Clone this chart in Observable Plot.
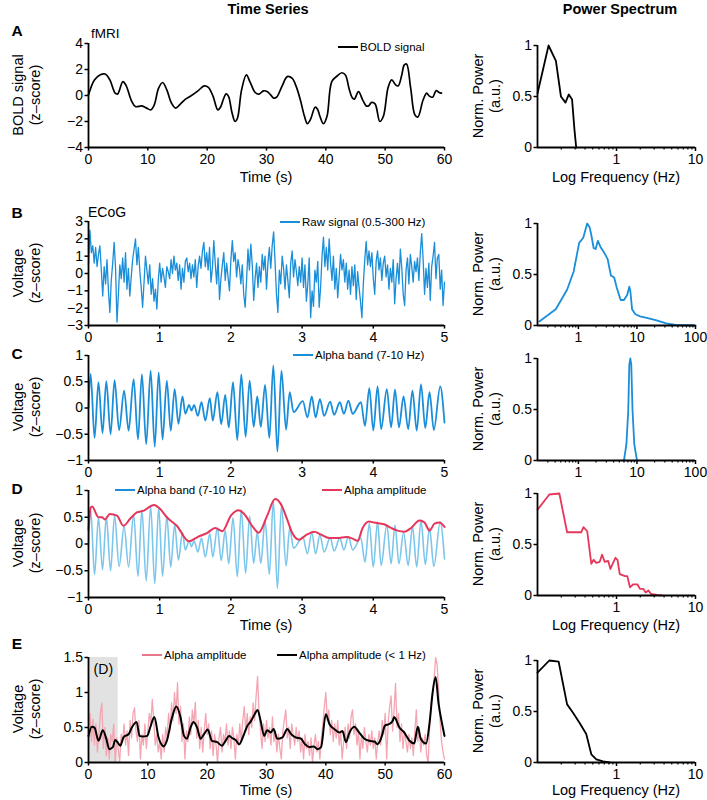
<!DOCTYPE html>
<html><head><meta charset="utf-8">
<script src="https://cdn.jsdelivr.net/npm/d3@7"></script>
<script src="https://cdn.jsdelivr.net/npm/@observablehq/plot@0.6"></script>
<style>
body{margin:0;background:#fff;}
#root{position:relative;width:707px;height:800px;overflow:hidden;font-family:"Liberation Sans",Arial,Helvetica,sans-serif;}
</style></head><body><div id="root"></div>
<script>
// ---------------- DATA ----------------
// Panel A (fMRI BOLD)
const boldTime = [0,1,2,2.8,3.6,4.5,4.9,5.8,6.3,7.3,7.9,9,9.8,10.5,11.1,11.8,12.5,13.2,14,14.7,15.4,16.3,17.1,18.5,19.5,20.2,21,21.8,22.3,22.7,23.2,23.6,24.2,24.7,25.1,25.8,26.6,27.2,28.1,28.7,29.5,30.1,30.7,31.2,31.7,32.6,33.5,34.3,35,35.7,36.4,36.9,37.4,38.2,38.6,39,39.6,40.2,41,41.9,42.7,43.3,43.9,44.4,44.8,45.5,46.2,46.8,47.2,47.7,48.3,49.1,49.7,50.5,51.1,51.8,52.2,52.8,53.2,53.6,54.3,55,55.5,56.4,57,57.4,58,58.6,59.1,59.5];
const boldSignal = [0.05,1.2,1.6,1.65,1.2,0.18,0.12,1.07,0.8,-0.46,-0.85,-0.8,-0.97,-1.1,-0.7,0.55,1.0,0.43,-0.6,-0.97,-0.7,-0.3,-0.08,0.38,0.74,0.63,-0.07,-1.1,-0.85,-0.33,0.12,-0.07,-1.35,-2.0,-1.75,0.43,1.58,1.07,0.23,0.1,0.36,0.3,0.05,-0.2,-0.13,0.7,1.45,1.33,0.7,-0.33,-1.6,-2.17,-1.86,-0.9,-1.05,-1.6,-2.17,-1.6,1.07,1.5,1.75,1.58,0.56,-0.13,-0.28,0.3,-0.33,-0.8,-0.8,-0.53,-0.64,-2.0,-1.6,0.63,1.2,0.8,0.74,1.58,2.34,2.42,0.56,-1.48,-1.66,-0.33,0.18,-0.03,-0.13,0.38,0.23,0.18];
const boldFreq = [0.1,0.138,0.171,0.198,0.226,0.249,0.274,0.294,0.309];
const boldPower = [0.53,1.0,0.85,0.5,0.44,0.52,0.47,0.17,0];

// Panel B (ECoG raw, sampled every 0.02 s)
const ecogStep = 0.02;
const ecogRaw = [
0.5,2.5,1.2,1.6,0.6,1.5,0.4,1.1,1.6,0.2,
-1.3,0.4,-0.6,0.8,-1.0,-2.25,-0.4,0.6,1.8,0.3,
-2.8,-1.2,0.5,-0.3,0.9,-0.5,1.2,-0.9,0.3,-1.3,
-0.2,0.8,1.4,2.0,0.5,1.5,0.2,-0.8,-1.95,-0.5,
1.0,0.2,-0.6,0.5,-1.2,-0.3,-1.6,-0.9,-2.05,-0.4,
0.6,-0.5,0.3,-0.2,-0.8,0.4,0.1,-0.3,0.8,0.0,
1.0,0.2,0.6,-0.4,0.5,-0.9,0.3,-0.5,0.7,0.9,
0.1,0.6,-0.3,0.5,-0.2,0.8,-0.8,0.4,1.0,0.3,
1.3,1.8,0.4,1.2,0.2,1.5,-0.5,0.3,1.9,0.6,
-0.6,0.9,-1.5,-0.3,0.5,1.2,-0.4,0.6,-0.2,-1.0,
0.8,1.9,0.7,1.2,-0.2,0.8,0.3,-0.6,0.5,-1.2,
-1.95,-0.4,1.4,0.2,1.7,0.5,-1.55,-0.3,0.6,-0.8,
0.4,-0.5,1.1,0.2,1.0,-0.9,0.6,1.5,0.3,1.6,
2.4,0.7,-1.2,-2.25,0.2,-0.6,1.0,0.3,-0.9,0.5,
-0.4,-1.4,0.6,1.3,-0.2,0.8,0.1,-0.7,0.4,-0.5,
0.9,-0.8,0.5,-1.6,-0.6,0.9,-2.55,-1.0,-1.9,0.2,
-0.5,0.7,-1.95,-0.8,1.0,2.1,0.4,1.5,0.2,2.0,
0.6,-0.4,1.0,-0.9,0.3,-1.4,-0.2,1.1,0.2,0.8,
-0.5,0.6,-0.9,0.2,-1.2,0.4,-0.7,0.5,-1.5,0.1,
-0.8,-1.6,-2.55,-0.6,0.8,1.85,0.5,1.3,0.4,1.2,
-0.3,-1.2,0.7,1.3,0.2,0.9,-0.4,0.6,1.0,-0.2,
0.5,-0.9,0.3,-0.5,0.8,-1.75,-0.3,0.6,-0.6,1.4,
0.3,-1.2,-1.85,0.2,0.9,-0.6,1.1,0.4,-0.5,0.7,
0.1,0.9,-0.4,1.2,2.3,0.8,-1.2,0.3,-0.8,0.6,
-1.55,0.4,1.0,1.8,-0.3,0.9,1.1,-0.9,0.2,-1.85,
-0.5];
const ecogFreq = [0.215,0.41,0.64,0.83,1.03,1.21,1.41,1.56,1.67,1.82,1.97,2.15,2.38,2.78,3.16,3.59,4.08,4.52,5.27,6.0,6.8,7.4,7.7,8.25,9.4,11.3,14.7,21.6,31.6,46,100];
const ecogPower = [0.04,0.16,0.35,0.53,0.81,0.86,1.0,0.96,0.88,0.76,0.75,0.83,0.77,0.71,0.65,0.49,0.47,0.37,0.25,0.25,0.3,0.38,0.34,0.16,0.11,0.09,0.075,0.05,0.02,0.005,0];

// Panel C (alpha band, peaks and troughs)
const alphaTime = [0,0.03,0.085,0.14,0.197,0.25,0.31,0.366,0.43,0.5,0.563,0.634,0.695,0.75,0.81,0.873,0.93,0.986,1.04,1.1,1.155,1.21,1.263,1.32,1.36,1.413,1.446,1.483,1.535,1.587,1.64,1.704,1.746,1.81,1.864,1.92,1.97,2.03,2.09,2.146,2.207,2.263,2.32,2.37,2.42,2.48,2.54,2.596,2.653,2.71,2.775,2.826,2.88,3.01,3.075,3.136,3.19,3.25,3.31,3.394,3.45,3.53,3.587,3.65,3.71,3.826,3.883,3.944,4.0,4.06,4.11,4.19,4.25,4.305,4.36,4.425,4.49,4.55,4.61,4.67,4.73,4.79,4.85,4.94,5.0];
const alphaBand = [0,0.65,-0.57,0.49,-0.48,0.51,-0.5,0.53,-0.42,0.33,-0.43,0.55,-0.6,0.64,-0.69,0.71,-0.74,0.68,-0.6,0.52,-0.43,0.36,-0.3,0.22,-0.11,0.06,-0.05,0.06,-0.15,0.11,-0.24,0.19,-0.24,0.3,-0.31,0.25,-0.37,0.49,-0.61,0.64,-0.55,0.52,-0.36,0.22,-0.36,0.44,-0.57,0.81,-0.83,0.71,-0.41,0.3,-0.08,0.13,-0.18,0.22,-0.18,0.17,-0.15,0.12,-0.13,0.11,-0.11,0.14,-0.11,0.11,-0.34,0.38,-0.43,0.41,-0.4,0.36,-0.37,0.35,-0.37,0.22,-0.4,0.33,-0.43,0.45,-0.38,0.3,-0.42,0.41,-0.28];
const alphaFreq = [6.0,6.6,7.1,7.4,7.7,8.0,8.4,9.0,10.0];
const alphaPower = [0,0.16,0.49,0.94,1.0,0.94,0.49,0.16,0];

// Panel D (alpha amplitude envelope)
const envTime = [0,0.03,0.05,0.14,0.19,0.23,0.3,0.4,0.49,0.59,0.68,0.77,0.92,1.01,1.1,1.24,1.41,1.53,1.67,1.78,1.88,2.0,2.11,2.18,2.32,2.39,2.51,2.62,2.7,2.79,2.86,2.96,3.05,3.17,3.26,3.38,3.5,3.62,3.71,3.78,3.85,3.94,4.01,4.15,4.25,4.34,4.44,4.53,4.65,4.72,4.79,4.86,4.93,5.0];
const envAmp = [0.27,0.68,0.7,0.5,0.5,0.46,0.56,0.53,0.34,0.48,0.59,0.62,0.73,0.65,0.5,0.34,0.05,0.13,0.21,0.3,0.24,0.53,0.63,0.57,0.3,0.21,0.53,0.84,0.75,0.46,0.21,0.08,0.16,0.23,0.18,0.11,0.11,0.13,0.1,0.06,0.3,0.42,0.4,0.37,0.3,0.25,0.23,0.3,0.44,0.4,0.25,0.38,0.4,0.32];
const envFreq = [0.1,0.141,0.189,0.237,0.308,0.357,0.382,0.426,0.48,0.513,0.555,0.613,0.656,0.71,0.783,0.838,0.906,0.971,1.03,1.1,1.28,1.37,1.48,1.63,1.84,1.98,2.19,2.34,2.54,2.72,3.24,3.75];
const envPower = [0.84,0.99,1.0,0.62,0.62,0.62,0.67,0.63,0.31,0.35,0.32,0.33,0.4,0.33,0.34,0.26,0.32,0.37,0.35,0.21,0.19,0.19,0.08,0.11,0.11,0.065,0.065,0.03,0.05,0.016,0.006,0];

// Panel E (60 s alpha amplitude, sampled every 0.25 s, and its < 1 Hz version)
const ampStep = 0.25;
const ampLong = [
0.45,0.70,0.30,0.62,0.25,0.55,0.15,0.40,0.70,0.85,0.20,0.50,
0.10,0.35,0.05,0.40,0.30,0.55,0.02,0.35,0.20,0.00,0.40,0.30,
0.55,0.25,0.45,0.10,0.60,0.35,0.70,0.78,0.45,0.30,0.60,0.05,
0.40,0.25,0.55,0.20,0.45,0.70,0.55,0.90,0.60,0.25,0.40,0.15,
0.30,0.05,0.40,0.15,0.50,0.35,0.70,0.45,0.85,0.60,1.00,0.70,
1.14,0.55,0.80,0.30,0.55,0.05,0.45,0.30,0.65,0.40,0.75,0.55,
0.86,0.35,0.60,0.20,0.50,0.15,0.45,0.70,0.40,0.55,0.20,0.45,
0.10,0.40,0.25,0.00,0.35,0.50,0.15,0.40,0.30,0.55,0.25,0.45,
0.20,0.50,0.35,0.05,0.40,0.25,0.55,0.30,0.60,0.80,0.45,0.70,
0.40,0.65,0.50,0.85,0.60,0.95,1.23,0.70,0.45,0.20,0.55,0.30,
0.60,0.35,0.50,0.25,0.65,0.30,0.45,0.15,0.40,0.20,0.05,0.45,
0.60,0.75,0.35,0.50,0.20,0.55,0.40,0.25,0.50,0.30,0.45,0.15,
0.35,0.05,0.40,0.20,0.30,0.10,0.35,0.00,0.25,0.40,0.15,0.30,
0.05,0.35,0.55,0.80,1.00,0.60,0.75,0.40,0.60,0.30,0.55,0.35,
0.60,0.25,0.45,0.05,0.30,0.50,0.20,0.55,0.35,0.65,0.75,0.40,
0.55,0.25,0.45,0.05,0.40,0.20,0.50,0.30,0.15,0.40,0.25,0.45,
0.20,0.35,0.05,0.30,0.45,0.25,0.60,0.40,0.70,0.05,0.55,0.80,
0.95,0.45,0.75,1.13,0.50,0.70,0.30,0.55,0.20,0.45,0.30,0.15,
0.40,0.20,0.35,0.10,0.45,0.75,0.30,0.50,0.15,0.35,0.25,0.40,
0.10,0.00,0.50,0.85,1.00,1.20,1.50,1.40,1.05,0.60,0.30,0.15,
0.05];
const slowTime = [0,0.56,1.0,1.7,2.4,3.0,3.5,4.1,4.5,4.9,5.35,5.9,6.8,7.3,8.1,8.6,9.2,9.9,10.4,11.1,11.8,12.7,13.2,14.1,14.8,15.5,16.1,16.6,17.2,17.7,18.3,18.9,19.5,20.1,20.8,21.7,22.5,23.1,23.7,24.2,24.8,25.4,26.1,26.8,27.3,28,28.5,29,29.6,30.1,30.7,31.2,31.8,32.7,33.5,34.1,34.9,35.8,36.5,37.2,38,38.6,39.2,40,40.6,41.4,42.3,42.8,43.4,43.9,44.8,45.6,46.5,47.3,48.2,48.7,49.3,50,50.7,51.3,51.5,52.4,53.2,54.1,54.9,55.5,56,56.9,57.5,58,58.5,59,59.6,60];
const slowAmp = [0.38,0.51,0.5,0.31,0.46,0.34,0.19,0.22,0.32,0.29,0.24,0.36,0.41,0.5,0.58,0.38,0.37,0.38,0.5,0.65,0.36,0.23,0.31,0.65,0.8,0.65,0.38,0.34,0.5,0.58,0.5,0.34,0.41,0.47,0.31,0.29,0.24,0.31,0.38,0.35,0.32,0.26,0.38,0.53,0.58,0.69,0.75,0.6,0.38,0.46,0.43,0.48,0.34,0.36,0.48,0.41,0.36,0.34,0.26,0.22,0.23,0.19,0.22,0.69,0.55,0.48,0.43,0.45,0.29,0.41,0.51,0.43,0.34,0.31,0.3,0.26,0.34,0.53,0.55,0.6,0.65,0.5,0.43,0.31,0.27,0.51,0.34,0.27,0.58,1.0,1.22,0.84,0.55,0.38];
const slowFreq = [0.1,0.141,0.185,0.237,0.28,0.34,0.414,0.48,0.555,0.675,0.82];
const slowPower = [0.88,1.0,0.99,0.57,0.49,0.39,0.28,0.08,0.03,0.01,0];
const shadeRegion = [{start: 0, end: 5, low: 0, high: 1.5, label: "(D)", mid: 2.5, labelY: 1.33}];

// Tick values
const ticks60 = [0,10,20,30,40,50,60];
const ticks5 = [0,1,2,3,4,5];
const logMajorA = [1,10];
const logMinorA = [0.2,0.3,0.4,0.5,0.6,0.7,0.8,0.9,2,3,4,5,6,7,8,9];
const logMajorB = [1,10,100];
const logMinorB = [0.3,0.4,0.5,0.6,0.7,0.8,0.9,2,3,4,5,6,7,8,9,20,30,40,50,60,70,80,90];
const powerTicks = [0,0.5,1];

// ---------------- STYLE ----------------
const FONT = '"Liberation Sans", Arial, Helvetica, sans-serif';
const BLUE = "#1a8ed8", LIGHTBLUE = "#7cc6ec", RED = "#e6365a", PINK = "#f4a5b2", PINKLEG = "#e9778c";
const fmt = d3.format("~g");
const root = document.getElementById("root");
const pairs = (xs, ys) => xs.map((x, i) => ({x, y: ys[i]}));
const stepped = (vals, step) => vals.map((y, i) => ({x: i * step, y}));

function place(el, left, top) {
  const d = document.createElement("div");
  d.style.cssText = `position:absolute;left:${left}px;top:${top}px;`;
  d.appendChild(el);
  root.appendChild(d);
}

const MT = 10, MB = 36;
function timePanel(top, bottom, xDomain, xTicks, yDomain, yTicks, marks) {
  const p = Plot.plot({
    width: 460, height: bottom - top + MT + MB,
    marginLeft: 88, marginRight: 16, marginTop: MT, marginBottom: MB,
    style: {fontFamily: FONT, fontSize: "14px", color: "#000", background: "transparent", overflow: "visible"},
    x: {domain: xDomain, label: null},
    y: {domain: yDomain, label: null},
    marks: [
      ...marks,
      Plot.axisX({ticks: xTicks, tickSize: 3.5, tickPadding: 3, strokeWidth: 1.5, label: null, fontSize: 14, tickFormat: fmt}),
      Plot.axisY({ticks: yTicks, tickSize: 3.5, tickPadding: 2, strokeWidth: 1.5, label: null, fontSize: 14, tickFormat: fmt}),
      Plot.ruleY([yDomain[0]], {strokeWidth: 1.8}),
      Plot.ruleX([xDomain[0]], {strokeWidth: 1.8})
    ]
  });
  place(p, 0, top - MT);
}
function specPanel(top, bottom, xDomain, major, minor, marks) {
  const p = Plot.plot({
    width: 267, height: bottom - top + MT + MB,
    marginLeft: 97, marginRight: 12, marginTop: MT, marginBottom: MB,
    style: {fontFamily: FONT, fontSize: "14px", color: "#000", background: "transparent", overflow: "visible"},
    x: {type: "log", domain: xDomain, label: null},
    y: {domain: [0, 1], label: null},
    marks: [
      ...marks,
      Plot.axisX({ticks: major, tickSize: 4, tickPadding: 2.5, strokeWidth: 1.5, label: null, fontSize: 14, tickFormat: fmt}),
      Plot.axisX({ticks: minor, tickSize: 2.5, strokeWidth: 1.2, label: null, tickFormat: () => ""}),
      Plot.axisY({ticks: powerTicks, tickSize: 3.5, tickPadding: 2, strokeWidth: 1.5, label: null, fontSize: 14, tickFormat: fmt}),
      Plot.ruleY([0], {strokeWidth: 1.8}),
      Plot.ruleX([xDomain[0]], {strokeWidth: 1.8})
    ]
  });
  place(p, 440, top - MT);
}

// ---------------- PANELS ----------------
// A
timePanel(43, 147, [0, 60], ticks60, [-4, 4], [-4,-2,0,2,4], [
  Plot.line(pairs(boldTime, boldSignal), {x: "x", y: "y", stroke: "#000", strokeWidth: 1.7, curve: "catmull-rom"})
]);
specPanel(45, 147, [0.1, 10], logMajorA, logMinorA, [
  Plot.line(pairs(boldFreq, boldPower), {x: "x", y: "y", stroke: "#000", strokeWidth: 1.8})
]);
// B
timePanel(221, 325, [0, 5], ticks5, [-3, 3], [-3,-2,-1,0,1,2,3], [
  Plot.line(stepped(ecogRaw, ecogStep), {x: "x", y: "y", stroke: BLUE, strokeWidth: 1.3})
]);
specPanel(223, 325, [0.2, 100], logMajorB, logMinorB, [
  Plot.line(pairs(ecogFreq, ecogPower), {x: "x", y: "y", stroke: BLUE, strokeWidth: 1.8})
]);
// C
timePanel(355, 460, [0, 5], ticks5, [-1, 1], [-1,-0.5,0,0.5,1], [
  Plot.line(pairs(alphaTime, alphaBand), {x: "x", y: "y", stroke: BLUE, strokeWidth: 1.8, curve: "monotone-x"})
]);
specPanel(358, 460, [0.2, 100], logMajorB, logMinorB, [
  Plot.line(pairs(alphaFreq, alphaPower), {x: "x", y: "y", stroke: BLUE, strokeWidth: 1.8})
]);
// D
timePanel(490, 597, [0, 5], ticks5, [-1, 1], [-1,-0.5,0,0.5,1], [
  Plot.line(pairs(alphaTime, alphaBand), {x: "x", y: "y", stroke: LIGHTBLUE, strokeWidth: 1.6, curve: "monotone-x"}),
  Plot.line(pairs(envTime, envAmp), {x: "x", y: "y", stroke: RED, strokeWidth: 2, curve: "monotone-x"})
]);
specPanel(493, 595, [0.1, 10], logMajorA, logMinorA, [
  Plot.line(pairs(envFreq, envPower), {x: "x", y: "y", stroke: RED, strokeWidth: 1.8})
]);
// E
timePanel(657, 762, [0, 60], ticks60, [0, 1.5], [0,0.5,1,1.5], [
  Plot.rect(shadeRegion, {x1: "start", x2: "end", y1: "low", y2: "high", fill: "#e2e2e2"}),
  Plot.text(shadeRegion, {x: "mid", y: "labelY", text: "label", fontSize: 14, fill: "#000"}),
  Plot.line(stepped(ampLong, ampStep), {x: "x", y: "y", stroke: PINK, strokeWidth: 1.3}),
  Plot.line(pairs(slowTime, slowAmp), {x: "x", y: "y", stroke: "#000", strokeWidth: 2, curve: "monotone-x"})
]);
specPanel(660, 762, [0.1, 10], logMajorA, logMinorA, [
  Plot.line(pairs(slowFreq, slowPower), {x: "x", y: "y", stroke: "#000", strokeWidth: 1.8})
]);

// ---------------- OVERLAY TEXT / LEGENDS ----------------
const ov = d3.select(root).append("svg")
  .attr("width", 707).attr("height", 800)
  .style("position", "absolute").style("left", "0px").style("top", "0px")
  .style("font-family", FONT).style("pointer-events", "none");

function txt(x, y, s, size, opts = {}) {
  const t = ov.append("text").attr("x", x).attr("y", y).text(s)
    .attr("font-size", size).attr("fill", "#000")
    .attr("text-anchor", opts.anchor || "start")
    .attr("dominant-baseline", "central");
  if (opts.bold) t.attr("font-weight", "bold");
  if (opts.rotate) t.attr("transform", `rotate(-90 ${x} ${y})`);
  return t;
}
function legend(x, y, color, label) {
  ov.append("line").attr("x1", x).attr("x2", x + 20).attr("y1", y).attr("y2", y)
    .attr("stroke", color).attr("stroke-width", 2);
  txt(x + 22, y, label, 11.5);
}

txt(268, 9, "Time Series", 14.5, {anchor: "middle", bold: true});
txt(620, 9, "Power Spectrum", 14.5, {anchor: "middle", bold: true});

const letters = [["A", 30], ["B", 212], ["C", 353], ["D", 488], ["E", 643]];
letters.forEach(([l, y]) => txt(17, y, l, 15.5, {anchor: "middle", bold: true}));

txt(91, 33, "fMRI", 13.5);
txt(88, 212, "ECoG", 14);

const leftMid = [95, 273, 407, 543, 709];
const leftL1 = ["BOLD signal", "Voltage", "Voltage", "Voltage", "Voltage"];
leftMid.forEach((m, i) => {
  txt(18, m, leftL1[i], 14.5, {anchor: "middle", rotate: true});
  txt(35, m, "(z\u2013score)", 14.5, {anchor: "middle", rotate: true});
});
const rightMid = [96, 274, 409, 544, 711];
rightMid.forEach(m => {
  txt(478, m, "Norm. Power", 14.5, {anchor: "middle", rotate: true});
  txt(495, m, "(a.u.)", 14.5, {anchor: "middle", rotate: true});
});
[177, 625, 790].forEach(y => {
  txt(266, y, "Time (s)", 14.5, {anchor: "middle"});
  txt(616, y, "Log Frequency (Hz)", 14.5, {anchor: "middle"});
});

legend(338, 47, "#000", "BOLD signal");
legend(280, 222, BLUE, "Raw signal (0.5-300 Hz)");
legend(293, 355, BLUE, "Alpha band (7-10 Hz)");
legend(115, 490, BLUE, "Alpha band (7-10 Hz)");
legend(322, 490, RED, "Alpha amplitude");
legend(142, 655, PINKLEG, "Alpha amplitude");
legend(277, 655, "#000", "Alpha amplitude (< 1 Hz)");
</script></body></html>
